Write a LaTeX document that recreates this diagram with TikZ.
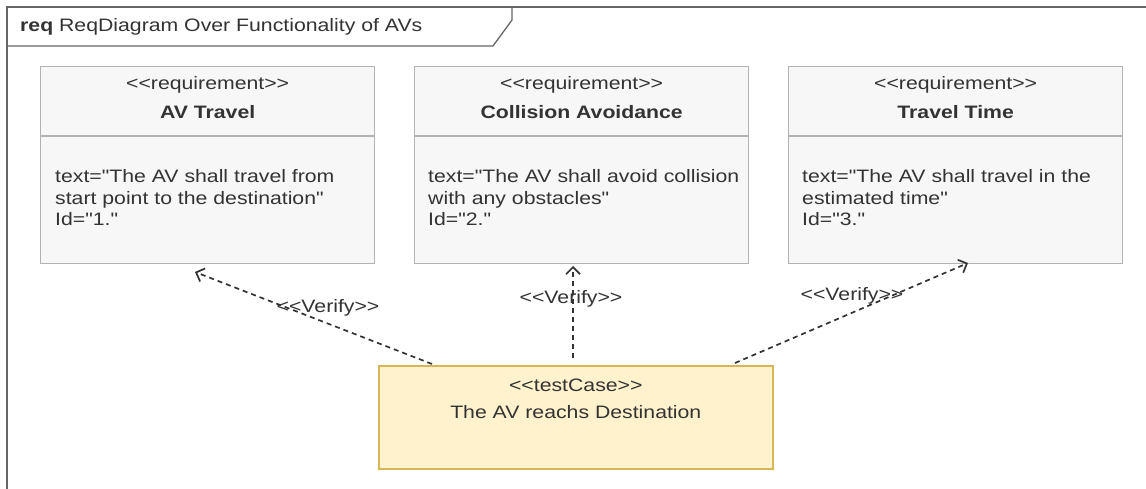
\documentclass[tikz,border=0pt]{standalone}
\usepackage{fontspec}
\setmainfont[FakeStretch=1.18,Ligatures=TeXOff]{Liberation Sans}
\usetikzlibrary{arrows.meta,calc}
\definecolor{txtc}{HTML}{333333}
\definecolor{boxc}{HTML}{B3B3B3}
\definecolor{boxfill}{HTML}{F7F7F7}
\definecolor{framec}{HTML}{666666}
\definecolor{tcfill}{HTML}{FFF2CC}
\definecolor{tcdraw}{HTML}{D6B656}
\definecolor{arrc}{HTML}{333333}
\begin{document}
\begin{tikzpicture}[x=1pt,y=-1pt,
  every node/.style={text=txtc,font=\fontsize{18}{21.5}\selectfont,inner sep=0pt},
  reqbox/.style={draw=boxc,fill=boxfill,line width=1.3pt,minimum width=334pt,minimum height=197pt,anchor=north west},
  tcbox/.style={draw=tcdraw,fill=tcfill,line width=1.6pt,minimum width=394pt,minimum height=103pt,anchor=north west},
  divider/.style={draw=boxc,line width=1.3pt},
  bodytext/.style={anchor=west,align=left},
  verify/.style={draw=arrc,line width=1.7pt,dash pattern=on 5pt off 4pt,-{Straight Barb[length=7pt,width=14pt,line width=1.7pt]}},
  vlabel/.style={text=txtc}
]
\useasboundingbox (0,0) rectangle (1146,489);
\fill[white] (0,0) rectangle (1146,489);
% frame
\draw[framec,line width=1.6pt] (7,500) -- (7,7) -- (1160,7);
\draw[framec,line width=1.3pt] (7,46) -- (493,46) -- (512,20) -- (512,7);
\node[anchor=west] (title) at (20,27) {\textbf{req} ReqDiagram Over Functionality of AVs};
% requirement boxes
\node[reqbox] (r1) at (40,66) {};
\node[reqbox] (r2) at (414,66) {};
\node[reqbox] (r3) at (788,66) {};
\foreach \b in {r1,r2,r3}{
  \draw[divider] ($(\b.north west)+(0,70)$) -- ($(\b.north east)+(0,70)$);
}
\node (r1s) at ($(r1.north)+(0,19)$) {<<requirement>>};
\node (r1n) at ($(r1.north)+(0,46)$) {\textbf{AV Travel}};
\node[bodytext] (r1b) at ($(r1.north west)+(15,132)$) {text="The AV shall travel from\\start point to the destination"\\Id="1."};
\node (r2s) at ($(r2.north)+(0,19)$) {<<requirement>>};
\node (r2n) at ($(r2.north)+(0,46)$) {\textbf{Collision Avoidance}};
\node[bodytext] (r2b) at ($(r2.north west)+(14,132)$) {text="The AV shall avoid collision\\with any obstacles"\\Id="2."};
\node (r3s) at ($(r3.north)+(0,19)$) {<<requirement>>};
\node (r3n) at ($(r3.north)+(0,46)$) {\textbf{Travel Time}};
\node[bodytext] (r3b) at ($(r3.north west)+(14,132)$) {text="The AV shall travel in the\\estimated time"\\Id="3."};
% test case
\node[tcbox] (tc) at (378,365) {};
\node (tcs) at ($(tc.north)+(0,20)$) {<<testCase>>};
\node (tcn) at ($(tc.north)+(0,47)$) {The AV reachs Destination};
% connector end points
\coordinate (s1) at (432,364);
\coordinate (e1) at (195,272);
\coordinate (s2) at (573,358);
\coordinate (e2) at (573,266);
\coordinate (s3) at (735,363);
\coordinate (e3) at (968,263);
\draw[verify] (s1) -- (e1);
\draw[verify] (s2) -- (e2);
\draw[verify] (s3) -- (e3);
\node[vlabel] (v1) at (328,308) {<<Verify>>};
\node[vlabel] (v2) at (571,299) {<<Verify>>};
\node[vlabel] (v3) at (852,296) {<<Verify>>};
\end{tikzpicture}
\end{document}
